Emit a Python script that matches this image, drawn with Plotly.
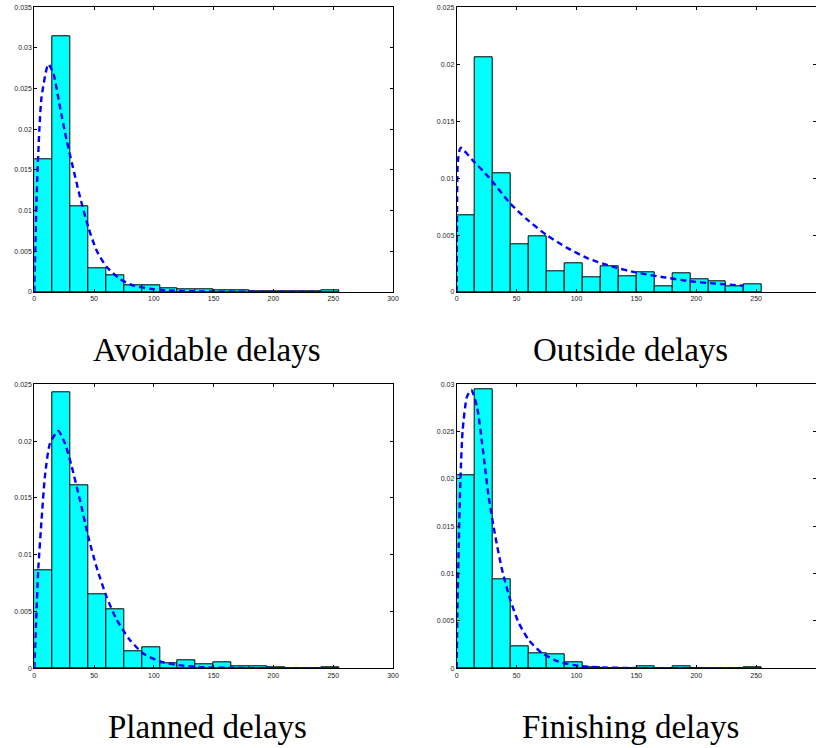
import plotly.graph_objects as go

# ---------------- data ----------------
bin_width = 15
bin_centers = [7.5 + 15 * i for i in range(17)]  # bins 0-15 ... 240-255

titles = ["Avoidable delays", "Outside delays", "Planned delays", "Finishing delays"]

avoidable_density = [0.01629, 0.03143, 0.01059, 0.00287, 0.00205, 0.00078, 0.00082,
                     0.00050, 0.00037, 0.00030, 0.00020, 0.00020, 0.00012, 0.00010,
                     0.00010, 0.00010, 0.00015]
outside_density = [0.00674, 0.02057, 0.01038, 0.00422, 0.00487, 0.00179, 0.00249,
                   0.00126, 0.00223, 0.00135, 0.00170, 0.00053, 0.00161, 0.00108,
                   0.00097, 0.00053, 0.00064]
planned_density = [0.00866, 0.02430, 0.01610, 0.00651, 0.00522, 0.00150, 0.00182,
                   0.00041, 0.00067, 0.00035, 0.00053, 0.00015, 0.00020, 0.00006,
                   0.00003, 0.00003, 0.00010]
finishing_density = [0.02040, 0.02950, 0.00940, 0.00232, 0.00155, 0.00144, 0.00063,
                     0.00007, 0.00004, 0.00004, 0.00025, 0.00004, 0.00025, 0.00004,
                     0.00003, 0.00003, 0.00010]

# fitted density curves
avoidable_fit_x = [0, 0.56, 1.95, 4.2, 6.1, 11.7, 15.9, 21.4, 27.0, 38.2, 45.1, 52.1,
                   60.4, 71.6, 82.7, 96.7, 110.6, 130, 160, 200, 240]
avoidable_fit_y = [0, 0.0035, 0.0117, 0.0199, 0.0240, 0.0280, 0.0269, 0.0228, 0.0187,
                   0.0117, 0.0080, 0.0051, 0.0031, 0.0016, 0.0008, 0.0004, 0.0002,
                   0.0001, 0.00004, 0.00001, 0.0]
outside_fit_x = [0, 0.3, 1.0, 3.3, 13.9, 22.3, 30.6, 44.5, 58.4, 75.1, 91.8, 108.5,
                 130.8, 150.3, 172.6, 194.8, 217, 239.4]
outside_fit_y = [0, 0.0070, 0.0115, 0.01266, 0.0115, 0.0106, 0.0096, 0.0078, 0.0064,
                 0.0050, 0.0039, 0.0030, 0.0022, 0.0017, 0.0013, 0.00094, 0.00073,
                 0.00056]
planned_fit_x = [0, 1.4, 3.3, 6.1, 8.9, 13.1, 20.1, 25.6, 31.2, 38.2, 45.1, 52.1, 60.4,
                 68.8, 79.9, 91.1, 105, 118.9, 140, 170, 200, 240]
planned_fit_y = [0, 0.0037, 0.0087, 0.0131, 0.0169, 0.0198, 0.0209, 0.0198, 0.0178,
                 0.0148, 0.0116, 0.0089, 0.0063, 0.0043, 0.0025, 0.0013, 0.0006,
                 0.0003, 0.0001, 0.00003, 0.00001, 0.0]
finishing_fit_x = [0, 0.56, 1.7, 3.1, 5.0, 8.6, 12.2, 17.0, 21.2, 26.7, 32.3, 37.9,
                   44.8, 51.8, 60.1, 71.2, 85.2, 101.9, 120, 150, 200, 240]
finishing_fit_y = [0, 0.0058, 0.0129, 0.0199, 0.0252, 0.0287, 0.0294, 0.0276, 0.0238,
                   0.0181, 0.0139, 0.0104, 0.0072, 0.0048, 0.0030, 0.0016, 0.0007,
                   0.00025, 0.0001, 0.00002, 0.0, 0.0]

x_ticks = [0, 50, 100, 150, 200, 250, 300]
y_ticks_avoidable = [0, 0.005, 0.01, 0.015, 0.02, 0.025, 0.03, 0.035]
y_ticks_outside = [0, 0.005, 0.01, 0.015, 0.02, 0.025]
y_ticks_planned = [0, 0.005, 0.01, 0.015, 0.02, 0.025]
y_ticks_finishing = [0, 0.005, 0.01, 0.015, 0.02, 0.025, 0.03]

panels = [
    (avoidable_density, avoidable_fit_x, avoidable_fit_y, y_ticks_avoidable),
    (outside_density, outside_fit_x, outside_fit_y, y_ticks_outside),
    (planned_density, planned_fit_x, planned_fit_y, y_ticks_planned),
    (finishing_density, finishing_fit_x, finishing_fit_y, y_ticks_finishing),
]

# ---------------- layout geometry ----------------
W, H = 816, 748
x_domains = [(34.3 / W, 393.0 / W), (456.7 / W, 1.0)]
y_domains = [(1 - 292.0 / H, 1 - 7.3 / H), (1 - 668.3 / H, 1 - 384.3 / H)]
title_pos = [(207, 350), (630, 350), (207, 727), (630, 727)]

fig = go.Figure()
tick_font = dict(family="Liberation Sans, Arial, sans-serif", size=7, color="#222222")

for i, (dens, fx, fy, yt) in enumerate(panels):
    r, c = divmod(i, 2)
    xa = "x" if i == 0 else f"x{i+1}"
    ya = "y" if i == 0 else f"y{i+1}"
    fig.add_trace(go.Bar(
        x=bin_centers, y=dens, width=bin_width,
        marker=dict(color="#00FFFF", line=dict(color="black", width=1)),
        xaxis=xa, yaxis=ya, showlegend=False,
    ))
    fig.add_trace(go.Scatter(
        x=fx, y=fy, mode="lines",
        line=dict(color="#0000FF", width=2.4, dash="6px,4px", shape="spline", smoothing=0.6),
        xaxis=xa, yaxis=ya, showlegend=False,
    ))
    axis_common = dict(
        showgrid=False, zeroline=False, showline=True, linecolor="black", linewidth=1,
        mirror="ticks", ticks="inside", ticklen=3, tickwidth=1, tickcolor="black",
        tickfont=tick_font, automargin=False,
    )
    fig.layout[("xaxis" if i == 0 else f"xaxis{i+1}")] = dict(
        axis_common, domain=x_domains[c], range=[0, 300], tickvals=x_ticks,
        anchor=ya,
    )
    fig.layout[("yaxis" if i == 0 else f"yaxis{i+1}")] = dict(
        axis_common, domain=y_domains[r], range=[0, yt[-1]], tickvals=yt,
        ticktext=[("0" if v == 0 else f"{v:g}") for v in yt],
        anchor=xa,
    )
    tx, ty = title_pos[i]
    fig.add_annotation(
        x=tx / W, y=1 - ty / H, xref="paper", yref="paper",
        text=titles[i], showarrow=False, xanchor="center", yanchor="middle",
        font=dict(family="Liberation Serif, Times New Roman, serif", size=33, color="black"),
    )

fig.update_layout(
    width=W, height=H, margin=dict(l=0, r=0, t=0, b=0, autoexpand=False),
    paper_bgcolor="white", plot_bgcolor="white", bargap=0,
)

fig.write_html(
    "out.html",
    config={"displayModeBar": False},
    post_script="document.body.style.margin='0px';"
                "document.documentElement.style.overflow='hidden';"
                "document.body.style.overflow='hidden';",
)
